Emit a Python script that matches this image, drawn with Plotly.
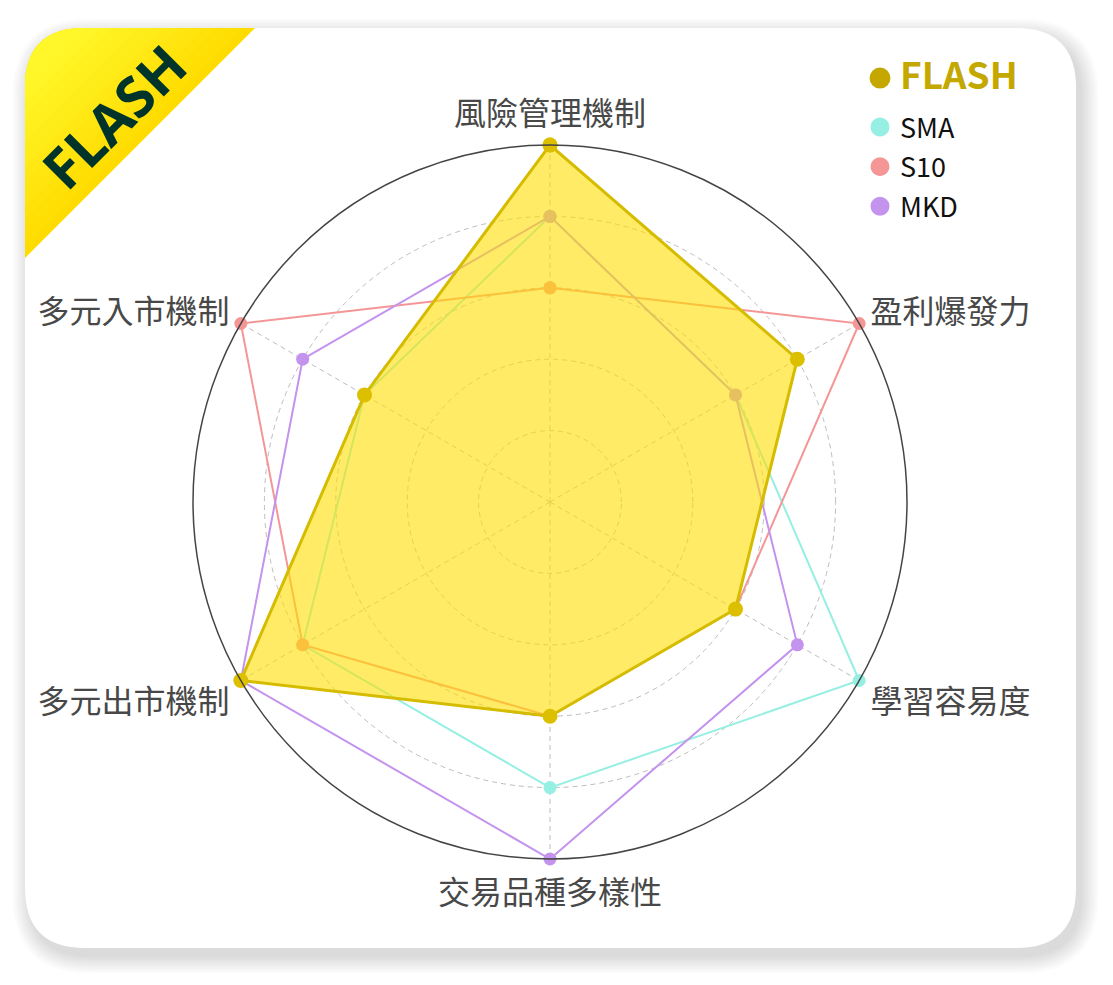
import plotly.graph_objects as go

W, H = 1113, 985
OFF = 8  # page body margin, screen coords -> figure coords

# radar data (scale 0-5)
categories = ['風險管理機制', '盈利爆發力', '學習容易度', '交易品種多樣性', '多元出市機制', '多元入市機制']
flash_vals = [5, 4, 3, 3, 5, 3]
sma_vals = [4, 3, 5, 4, 4, 3]
s10_vals = [3, 5, 3, 3, 4, 5]
mkd_vals = [4, 3, 4, 5, 5, 4]

series_names = ['SMA', 'S10', 'MKD']
series_vals = [sma_vals, s10_vals, mkd_vals]
series_colors = ['#95EFE3', '#F59696', '#C493EE']

flash_line = '#D6BC00'
flash_marker = '#DCC000'
flash_fill = 'rgba(255,222,0,0.6)'


def px(x):
    return (x - OFF) / W


def py(y):
    return 1 - (y - OFF) / H


def rounded_rect(x0, y0, x1, y1, r):
    # screen pixel coords -> paper path, corners as quadratic curves
    pts = [
        'M', px(x0 + r), py(y0),
        'L', px(x1 - r), py(y0),
        'Q', px(x1), py(y0), px(x1), py(y0 + r),
        'L', px(x1), py(y1 - r),
        'Q', px(x1), py(y1), px(x1 - r), py(y1),
        'L', px(x0 + r), py(y1),
        'Q', px(x0), py(y1), px(x0), py(y1 - r),
        'L', px(x0), py(y0 + r),
        'Q', px(x0), py(y0), px(x0 + r), py(y0),
        'Z',
    ]
    return ' '.join(p if isinstance(p, str) else '%.5f' % p for p in pts)


def corner_tri(c, x0=25, y0=28, r=60):
    # top-left corner triangle cut along x+y=c, keeping the rounded card corner
    return ('M %.5f %.5f L %.5f %.5f Q %.5f %.5f %.5f %.5f L %.5f %.5f Z' %
            (px(x0), py(c - x0), px(x0), py(y0 + r), px(x0), py(y0),
             px(x0 + r), py(y0), px(c - y0), py(y0)))


fig = go.Figure()

# other series underneath
for name, vals, col in zip(series_names, series_vals, series_colors):
    fig.add_trace(go.Scatterpolar(
        r=vals + vals[:1], theta=categories + categories[:1],
        mode='lines+markers', name=name, showlegend=False,
        line=dict(color=col, width=2),
        marker=dict(color=col, size=13),
    ))

# FLASH on top
fig.add_trace(go.Scatterpolar(
    r=flash_vals + flash_vals[:1], theta=categories + categories[:1],
    mode='lines+markers', name='FLASH', showlegend=False,
    fill='toself', fillcolor=flash_fill,
    line=dict(color=flash_line, width=3),
    marker=dict(color=flash_marker, size=15),
))

# legend entries (dots only): FLASH in its own legend, the rest in legend2
fig.add_trace(go.Scatterpolar(
    r=[None], theta=[None], mode='markers', legend='legend',
    name='<span style="font-size:37px;color:#C4A800"><b>FLASH</b></span>',
    marker=dict(color='#C4A800', size=16, line=dict(color='#C4A800', width=5)),
))
for name, col in zip(series_names, series_colors):
    fig.add_trace(go.Scatterpolar(
        r=[None], theta=[None], mode='markers', legend='legend2', legendgroup=name,
        name=name, marker=dict(color=col, size=16, line=dict(color=col, width=3)),
    ))

shapes = []
# soft shadow
for i in range(12):
    e = 1 + i * 1.5
    shapes.append(dict(type='path', xref='paper', yref='paper', layer='below',
                       path=rounded_rect(25 - e + 5, 28 - e + 8, 1076 + e + 5, 948 + e + 8, 60 + e),
                       fillcolor='rgba(0,0,0,0.011)', line=dict(width=0)))
# card
shapes.append(dict(type='path', xref='paper', yref='paper', layer='below',
                   path=rounded_rect(25, 28, 1076, 948, 60),
                   fillcolor='white', line=dict(width=0)))
# yellow corner ribbon (banded to mimic the gradient)
n_bands = 14
for k in range(n_bands):
    t = k / (n_bands - 1)
    c = 283 - t * (283 - 115)
    g = int(round(220 + t * (247 - 220)))
    b = int(round(0 + t * 42))
    shapes.append(dict(type='path', xref='paper', yref='paper', layer='below',
                       path=corner_tri(c), fillcolor='rgb(255,%d,%d)' % (g, b),
                       line=dict(width=0)))

fig.update_layout(
    width=W, height=H,
    margin=dict(l=0, r=0, t=0, b=0),
    paper_bgcolor='white',
    plot_bgcolor='white',
    shapes=shapes,
    font=dict(family='Noto Sans CJK TC, Noto Sans', color='#444444'),
    polar=dict(
        domain=dict(x=[px(193), px(907)], y=[py(859), py(145)]),
        bgcolor='rgba(0,0,0,0)',
        radialaxis=dict(range=[0, 5], tickvals=[1, 2, 3, 4, 5], showticklabels=False,
                        ticks='', showline=False, gridcolor='#BDBDBD', griddash='5px,4px',
                        gridwidth=1),
        angularaxis=dict(rotation=90, direction='clockwise', type='category',
                         showline=True, linecolor='#444444', linewidth=1.5,
                         gridcolor='#BDBDBD', griddash='5px,4px',
                         ticks='outside', ticklen=6, tickcolor='rgba(0,0,0,0)',
                         tickfont=dict(size=32, color='#484848',
                                       family='Noto Sans CJK TC')),
    ),
    showlegend=True,
    legend=dict(x=px(860), y=py(54), xanchor='left', yanchor='top',
                bgcolor='rgba(0,0,0,0)', itemsizing='trace',
                font=dict(size=27, color='#111111', family='Noto Sans CJK TC')),
    legend2=dict(x=px(860), y=py(103), xanchor='left', yanchor='top',
                 bgcolor='rgba(0,0,0,0)', itemsizing='trace', tracegroupgap=1.5,
                 font=dict(size=27, color='#111111', family='Noto Sans CJK TC')),
    annotations=[dict(text='<b>FLASH</b>', x=px(113), y=py(116), xref='paper', yref='paper',
                      xanchor='center', yanchor='middle',
                      showarrow=False, textangle=-45,
                      font=dict(size=56, color='#00332A', family='Noto Sans'))],
)

fig.write_html("out.html")
